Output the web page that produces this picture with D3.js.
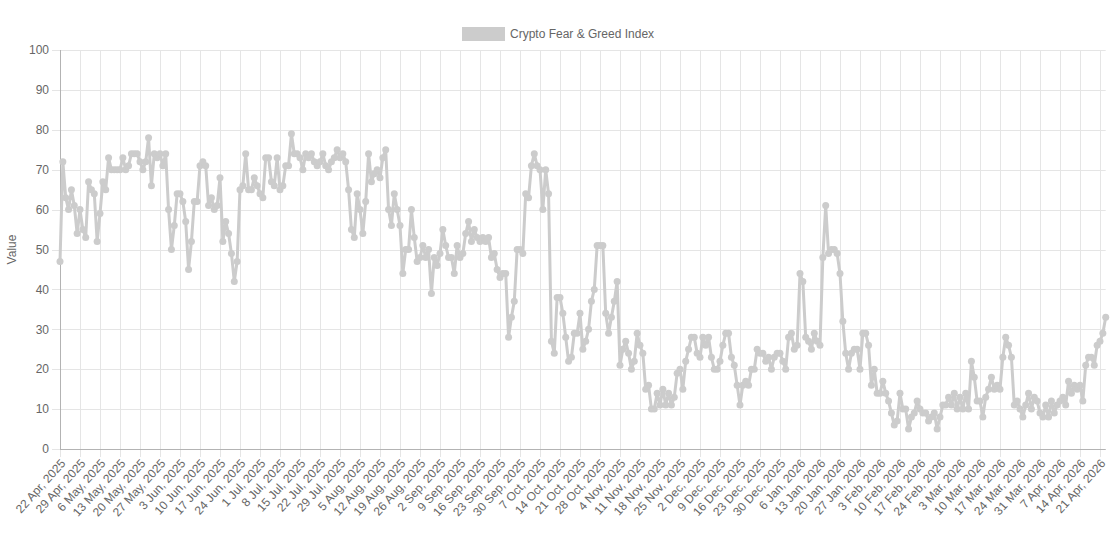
<!DOCTYPE html>
<html><head><meta charset="utf-8">
<script src="https://cdn.jsdelivr.net/npm/d3@7"></script>
<style>
body{margin:0;background:#fff;}
svg{display:block;}
text{font-family:"Liberation Sans",Arial,Helvetica,sans-serif;}
</style>
</head><body>
<svg id="chart" width="1114" height="537"></svg>
<script>
const seriesName = "Crypto Fear & Greed Index";
const startDate = "2025-04-22";
const values = [
47,72,63,60,65,61,54,60,55,53,
67,65,64,52,59,67,65,73,70,70,
70,70,73,70,71,74,74,74,72,70,
72,78,66,74,73,74,71,74,60,50,
56,64,64,62,57,45,52,62,62,71,
72,71,61,63,60,61,68,52,57,54,
49,42,47,65,66,74,65,65,68,66,
64,63,73,73,67,66,73,65,66,71,
71,79,74,74,73,70,74,73,74,72,
71,72,74,71,70,72,73,75,73,74,
72,65,55,53,64,60,54,62,74,67,
69,70,68,73,75,60,56,64,60,56,
44,50,50,60,53,47,48,51,48,50,
39,48,46,49,55,51,48,48,44,51,
48,49,54,57,52,55,53,52,53,52,
53,48,49,45,43,44,44,28,33,37,
50,50,49,64,63,71,74,71,70,60,
70,64,27,24,38,38,34,28,22,23,
29,29,34,25,27,30,37,40,51,51,
51,34,29,33,37,42,21,25,27,24,
20,22,29,26,24,15,16,10,10,14,
11,15,11,14,11,13,19,20,15,22,
25,28,28,24,23,28,26,28,23,20,
20,22,26,29,29,23,21,16,11,16,
17,16,20,20,25,24,24,22,23,20,
23,24,24,22,20,28,29,25,26,44,
42,28,27,25,29,27,26,48,61,49,
50,50,49,44,32,24,20,24,25,25,
20,29,29,26,16,20,14,14,17,14,
12,9,6,7,14,10,10,5,8,9,
12,10,9,9,7,8,9,5,8,11,
11,13,11,14,10,13,10,14,10,22,
18,12,12,8,13,15,18,15,16,15,
23,28,26,23,11,12,10,8,11,14,
10,13,12,9,8,11,8,12,9,11,
12,13,11,17,14,16,15,16,12,21,
23,23,21,26,27,29,33
];
const tickLabels = [
"22 Apr, 2025","29 Apr, 2025","6 May, 2025","13 May, 2025","20 May, 2025","27 May, 2025",
"3 Jun, 2025","10 Jun, 2025","17 Jun, 2025","24 Jun, 2025","1 Jul, 2025","8 Jul, 2025",
"15 Jul, 2025","22 Jul, 2025","29 Jul, 2025","5 Aug, 2025","12 Aug, 2025","19 Aug, 2025",
"26 Aug, 2025","2 Sep, 2025","9 Sep, 2025","16 Sep, 2025","23 Sep, 2025","30 Sep, 2025",
"7 Oct, 2025","14 Oct, 2025","21 Oct, 2025","28 Oct, 2025","4 Nov, 2025","11 Nov, 2025",
"18 Nov, 2025","25 Nov, 2025","2 Dec, 2025","9 Dec, 2025","16 Dec, 2025","23 Dec, 2025",
"30 Dec, 2025","6 Jan, 2026","13 Jan, 2026","20 Jan, 2026","27 Jan, 2026","3 Feb, 2026",
"10 Feb, 2026","17 Feb, 2026","24 Feb, 2026","3 Mar, 2026","10 Mar, 2026","17 Mar, 2026",
"24 Mar, 2026","31 Mar, 2026","7 Apr, 2026","14 Apr, 2026","21 Apr, 2026"
];
const yTicks = [0,10,20,30,40,50,60,70,80,90,100];
const yTitle = "Value";

(function () {
const mLeft = 60, mRight = 1105.7, mTop = 50, mBottom = 449;
const lineColor = "#cccccc", gridColor = "#e5e5e5", axisColor = "#b3b3b3", textColor = "#666";

const start = d3.isoParse(startDate + "T00:00:00Z");
const categories = values.map((v, i) => d3.utcDay.offset(start, i));
const data = values.map((v, i) => ({ date: categories[i], value: v }));

const svg = d3.select("#chart");
const x = d3.scalePoint().domain(categories.map(d => +d)).range([mLeft, mRight]);
const y = d3.scaleLinear().domain([0, 100]).range([mBottom, mTop]);

const tickCats = categories.filter((d, i) => i % 7 === 0).map(d => +d);

svg.append("g").selectAll("line").data(yTicks).join("line")
  .attr("x1", mLeft - 8).attr("x2", mRight)
  .attr("y1", d => Math.round(y(d)) + 0.5).attr("y2", d => Math.round(y(d)) + 0.5)
  .attr("stroke", gridColor).attr("stroke-width", 1);
svg.append("g").selectAll("line").data(tickCats).join("line")
  .attr("x1", d => Math.round(x(d)) + 0.5).attr("x2", d => Math.round(x(d)) + 0.5)
  .attr("y1", mTop).attr("y2", mBottom + 8)
  .attr("stroke", gridColor).attr("stroke-width", 1);

svg.append("line").attr("x1", mLeft + 0.5).attr("x2", mLeft + 0.5).attr("y1", mTop).attr("y2", mBottom)
  .attr("stroke", axisColor).attr("stroke-width", 1);
svg.append("line").attr("x1", mLeft).attr("x2", mRight).attr("y1", mBottom + 0.5).attr("y2", mBottom + 0.5)
  .attr("stroke", axisColor).attr("stroke-width", 1);

svg.append("g").selectAll("text").data(yTicks).join("text")
  .attr("x", mLeft - 11).attr("y", d => y(d)).attr("dy", "0.35em")
  .attr("text-anchor", "end").attr("font-size", 12).attr("fill", textColor)
  .text(d => d);

svg.append("g").selectAll("text").data(tickCats).join("text")
  .attr("transform", d => `translate(${x(d) + 3},${mBottom + 12}) rotate(-48)`)
  .attr("text-anchor", "end").attr("dy", "0.35em")
  .attr("font-size", 12).attr("fill", textColor)
  .text((d, i) => tickLabels[i]);

svg.append("text").attr("transform", `translate(16,${(mTop + mBottom) / 2}) rotate(-90)`)
  .attr("text-anchor", "middle").attr("font-size", 12).attr("fill", textColor).text(yTitle);

const line = d3.line().x(d => x(+d.date)).y(d => y(d.value));
svg.append("path").datum(data).attr("d", line)
  .attr("fill", "none").attr("stroke", lineColor).attr("stroke-width", 3)
  .attr("stroke-linejoin", "round");
svg.append("g").selectAll("circle").data(data).join("circle")
  .attr("cx", d => x(+d.date)).attr("cy", d => y(d.value)).attr("r", 3.5)
  .attr("fill", lineColor);

const lg = svg.append("g");
lg.append("rect").attr("x", 462).attr("y", 27).attr("width", 43).attr("height", 14).attr("fill", lineColor);
lg.append("text").attr("x", 510).attr("y", 34).attr("dy", "0.35em").attr("font-size", 12)
  .attr("fill", textColor).text(seriesName);
})();
</script>
</body></html>
